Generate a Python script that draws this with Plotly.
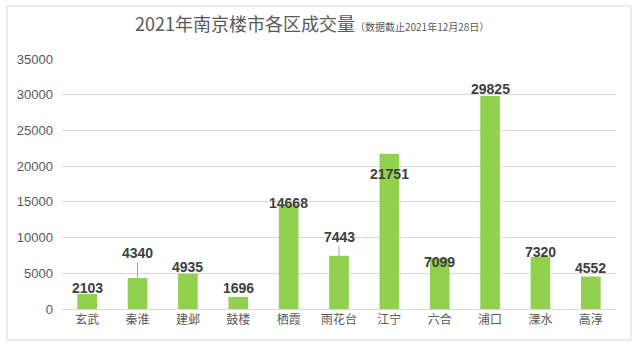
import plotly.graph_objects as go

districts = ["玄武", "秦淮", "建邺", "鼓楼", "栖霞", "雨花台", "江宁", "六合", "浦口", "溧水", "高淳"]
volumes = [2103, 4340, 4935, 1696, 14668, 7443, 21751, 7099, 29825, 7320, 4552]
y_ticks = [0, 5000, 10000, 15000, 20000, 25000, 30000, 35000]

# label placement (pixel offset of label centre above bar top) and leader line flags
label_offsets = [6, 25, 7, 9, 1, 19, -20, -4, 7, 5, 8]
leader_lines = [False, True, False, False, False, True, False, False, False, False, False]

FONT = "Liberation Sans, Arial, Noto Sans CJK SC"
CJK = "Noto Sans CJK SC, Liberation Sans"

fig = go.Figure()
fig.add_trace(go.Bar(
    x=districts, y=volumes,
    marker=dict(color="#92D050", line=dict(width=0)),
    hoverinfo="x+y",
))

for d, v, off, lead in zip(districts, volumes, label_offsets, leader_lines):
    fig.add_annotation(
        x=d, y=v, xref="x", yref="y",
        text=f"<b>{v}</b>",
        showarrow=True, ax=0, ay=-off, axref="pixel", ayref="pixel",
        arrowhead=0, arrowwidth=1, standoff=0,
        arrowcolor="#a6a6a6" if lead else "rgba(0,0,0,0)",
        font=dict(family=FONT, size=14, color="#404040"),
        xanchor="center", yanchor="middle",
    )

fig.add_annotation(
    xref="paper", yref="paper", x=0.128, y=1.205,
    xanchor="left", yanchor="top",
    text="2021年南京楼市各区成交量<span style='font-size:10px'>（数据截止2021年12月28日）</span>",
    showarrow=False,
    font=dict(family=CJK, size=18, color="#595959"),
)

fig.add_shape(type="rect", xref="paper", yref="paper",
              x0=-0.0993, x1=1.027, y0=-0.124, y1=1.212,
              line=dict(color="#d9d9d9", width=1), fillcolor="rgba(0,0,0,0)", layer="below")

fig.update_layout(
    width=641, height=349,
    margin=dict(l=62, r=25, t=59, b=40),
    paper_bgcolor="white", plot_bgcolor="white",
    bargap=0.61,
    showlegend=False,
    xaxis=dict(
        showgrid=False, showline=True, linecolor="#d9d9d9", linewidth=1,
        ticks="", tickfont=dict(family=CJK, size=12, color="#595959"),
    ),
    yaxis=dict(
        range=[0, 35000], tickvals=y_ticks, ticktext=[str(t) for t in y_ticks],
        showgrid=True, gridcolor="#d9d9d9", gridwidth=1,
        zeroline=False, showline=False, ticks="",
        tickfont=dict(family=FONT, size=13, color="#595959"),
        ticklabelstandoff=8,
    ),
)

fig.write_html("out.html")
